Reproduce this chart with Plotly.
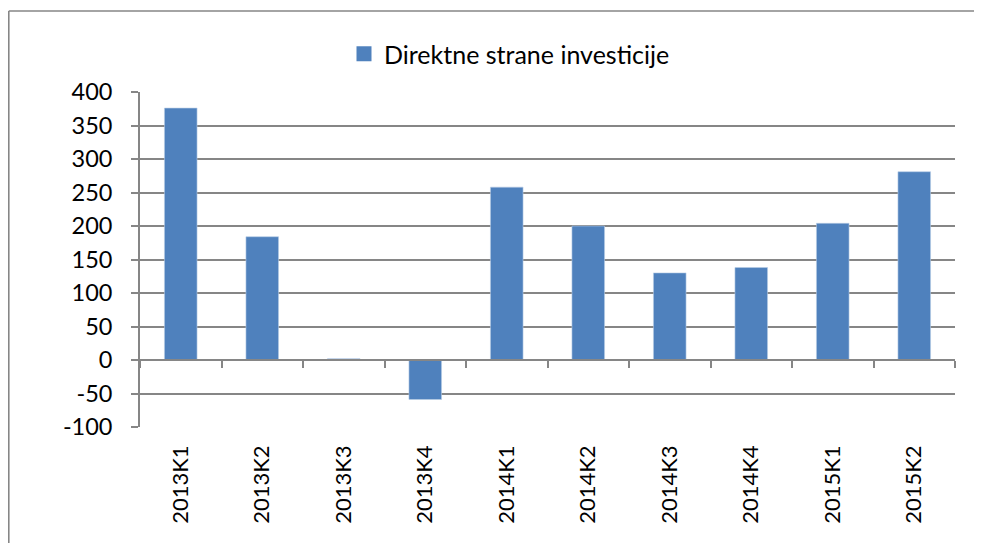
"""Direktne strane investicije po kvartalima"""

import plotly.graph_objects as go

# Data
# --------------------
quarters = ["2013K1", "2013K2", "2013K3", "2013K4", "2014K1",
            "2014K2", "2014K3", "2014K4", "2015K1", "2015K2"]
fdi = [376, 184, 2, -59, 258, 200, 130, 138, 204, 281]
y_ticks = [-100, -50, 0, 50, 100, 150, 200, 250, 300, 350, 400]
y_labels = [str(v) for v in y_ticks]  # plain hyphen, like Excel

series_name = "Direktne strane investicije"

BAR = "#4F81BD"
GRID = "#868686"
FONT = "Lato"

fig = go.Figure()

fig.add_trace(go.Bar(
    x=quarters, y=fdi, name=series_name, showlegend=False,
    marker=dict(color=BAR, line=dict(color="#B9CDE5", width=0.6)),
))

# legend entry only (bigger square swatch than plotly's bar symbol)
fig.add_trace(go.Scatter(
    x=[None], y=[None], name=series_name, mode="markers",
    marker=dict(symbol="square", size=15, color=BAR),
))

# invisible helper so the axis at zero gets its category ticks
fig.add_trace(go.Scatter(
    x=quarters, y=fdi, xaxis="x2", mode="markers",
    marker=dict(opacity=0), showlegend=False, hoverinfo="skip",
))

fig.update_layout(
    width=974, height=535,
    margin=dict(l=132, r=27, t=84, b=116),
    paper_bgcolor="white", plot_bgcolor="white",
    font=dict(family=FONT, size=22, color="black"),
    bargap=0.6,
    showlegend=True,
    legend=dict(
        orientation="h", x=0.2503, xanchor="left", y=1.1134, yanchor="middle",
        font=dict(size=25),
    ),
    xaxis=dict(
        type="category", categoryorder="array", categoryarray=quarters,
        range=[-0.5, 9.5], tickangle=-90, showline=False, showgrid=False,
        ticks="", ticklabelstandoff=13,
    ),
    xaxis2=dict(
        type="category", categoryorder="array", categoryarray=quarters,
        overlaying="x", anchor="free", position=0.2,
        range=[-0.5, 9.5], showline=True, linecolor=GRID, linewidth=2,
        ticks="outside", tickson="boundaries", ticklen=7, tickcolor=GRID,
        tickwidth=1.6, showticklabels=False, showgrid=False,
    ),
    yaxis=dict(
        range=[-100, 400], tickvals=y_ticks, ticktext=y_labels,
        tickfont=dict(size=23.5),
        showline=True, linecolor=GRID,
        linewidth=1.6, ticks="outside", ticklen=7, tickcolor=GRID, tickwidth=1.6,
        showgrid=True, gridcolor=GRID, gridwidth=1.6, zeroline=False,
        ticklabelstandoff=14,
    ),
    shapes=[
        dict(type="line", xref="paper", yref="paper", x0=-0.161, x1=-0.161,
             y0=-0.5, y1=1.2418, line=dict(color=GRID, width=1.6)),
        dict(type="line", xref="paper", yref="paper", x0=-0.161, x1=1.2,
             y0=1.2418, y1=1.2418, line=dict(color=GRID, width=1.6)),
    ],
)

fig.write_html("out.html")
